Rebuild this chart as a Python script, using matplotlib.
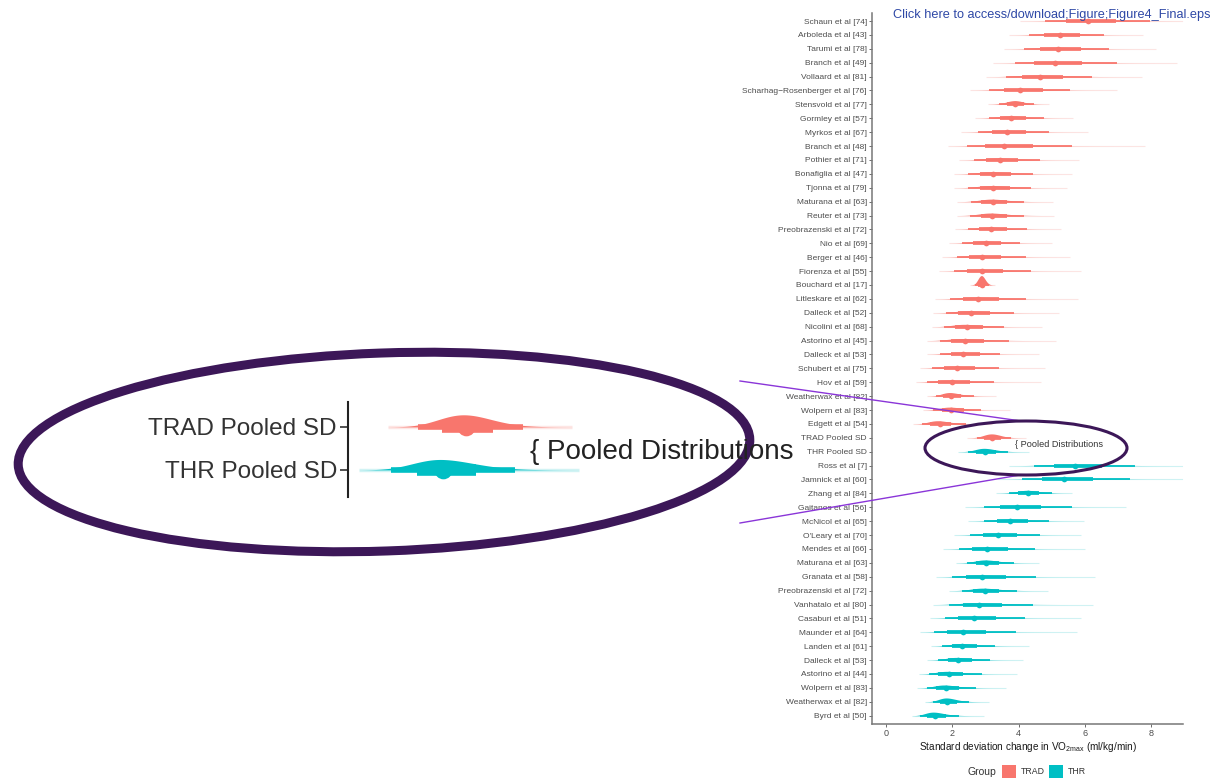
import numpy as np
import matplotlib
matplotlib.use("Agg")
import matplotlib.pyplot as plt
from matplotlib.patches import Ellipse, Rectangle
from matplotlib.lines import Line2D

plt.rcParams['font.family'] = ['Liberation Sans', 'DejaVu Sans']

# studies, top to bottom
labels = [
    'Schaun et al [74]', 'Arboleda et al [43]', 'Tarumi et al [78]', 'Branch et al [49]',
    'Vollaard et al [81]', 'Scharhag\u2212Rosenberger et al [76]', 'Stensvold et al [77]',
    'Gormley et al [57]', 'Myrkos et al [67]', 'Branch et al [48]', 'Pothier et al [71]',
    'Bonafiglia et al [47]', 'Tjonna et al [79]', 'Maturana et al [63]', 'Reuter et al [73]',
    'Preobrazenski et al [72]', 'Nio et al [69]', 'Berger et al [46]', 'Fiorenza et al [55]',
    'Bouchard et al [17]', 'Litleskare et al [62]', 'Dalleck et al [52]', 'Nicolini et al [68]',
    'Astorino et al [45]', 'Dalleck et al [53]', 'Schubert et al [75]', 'Hov et al [59]',
    'Weatherwax et al [82]', 'Wolpern et al [83]', 'Edgett et al [54]',
    'TRAD Pooled SD', 'THR Pooled SD',
    'Ross et al [7]', 'Jamnick et al [60]', 'Zhang et al [84]', 'Gaitanos et al [56]',
    'McNicol et al [65]', "O'Leary et al [70]", 'Mendes et al [66]', 'Maturana et al [63]',
    'Granata et al [58]', 'Preobrazenski et al [72]', 'Vanhatalo et al [80]',
    'Casaburi et al [51]', 'Maunder et al [64]', 'Landen et al [61]', 'Dalleck et al [53]',
    'Astorino et al [44]', 'Wolpern et al [83]', 'Weatherwax et al [82]', 'Byrd et al [50]',
]
groups = ['TRAD'] * 31 + ['THR'] * 20

# median SD change and 95% interval (ml/kg/min)
med = [6.10, 5.24, 5.17, 5.08, 4.63, 4.05, 3.90, 3.77, 3.65, 3.57, 3.43, 3.23, 3.22, 3.23,
       3.20, 3.18, 3.00, 2.90, 2.90, 2.88, 2.77, 2.57, 2.43, 2.37, 2.33, 2.15, 1.98, 1.95,
       1.97, 1.62,
       3.20, 2.98,
       5.71, 5.36, 4.27, 3.95, 3.75, 3.37, 3.05, 3.02, 2.90, 2.97, 2.80, 2.65, 2.33, 2.30,
       2.17, 1.90, 1.82, 1.85, 1.48]
lo95 = [4.80, 4.30, 4.16, 3.90, 3.62, 3.10, 3.40, 3.10, 2.77, 2.45, 2.65, 2.48, 2.48, 2.55,
        2.53, 2.48, 2.30, 2.13, 2.05, 2.68, 1.93, 1.82, 1.75, 1.62, 1.62, 1.40, 1.25, 1.50,
        1.42, 1.10,
        2.74, 2.48,
        4.45, 4.10, 3.70, 2.95, 2.95, 2.53, 2.20, 2.45, 2.00, 2.30, 1.90, 1.77, 1.45, 1.70,
        1.58, 1.30, 1.25, 1.42, 1.02]
hi95 = [7.96, 6.56, 6.71, 6.96, 6.21, 5.54, 4.45, 4.75, 4.90, 5.60, 4.65, 4.44, 4.36, 4.17,
        4.17, 4.25, 4.03, 4.22, 4.36, 3.10, 4.23, 3.87, 3.55, 3.70, 3.45, 3.41, 3.25, 2.65,
        2.85, 2.40,
        3.76, 3.68,
        7.50, 7.35, 5.00, 5.60, 4.90, 4.65, 4.50, 3.85, 4.53, 3.95, 4.44, 4.20, 3.93, 3.30,
        3.15, 2.90, 2.70, 2.50, 2.20]

colors = {'TRAD': '#F8766D', 'THR': '#00BFC4'}
pooled_rows = [30, 31]


def log_split(m, lo, hi):
    return np.log(m / lo) / 1.96, np.log(hi / m) / 1.96


def peak(m, lo, hi):
    sl, sr = log_split(m, lo, hi)
    return 2 / (np.sqrt(2 * np.pi) * (sl + sr)) / m


slab_k = 0.68 / max(peak(m, l, h) for m, l, h in zip(med, lo95, hi95))


def draw_dist(ax, row, m, lo, hi, color, scale=1.0):
    sl, sr = log_split(m, lo, hi)
    u = np.linspace(-3.4 * sl, 3.4 * sr, 400)
    x = m * np.exp(u)
    s = np.where(u < 0, sl, sr)
    dens = 2 / (np.sqrt(2 * np.pi) * (sl + sr)) * np.exp(-0.5 * (u / s) ** 2) / x
    ax.fill_between(x, row, row - slab_k * dens, color=color, lw=0, zorder=2)
    ax.plot([x[0], x[-1]], [row, row], color=color, alpha=0.18, lw=0.8 * scale,
            solid_capstyle='butt', zorder=2)
    ax.plot([lo, hi], [row, row], color=color, lw=1.3 * scale,
            solid_capstyle='butt', zorder=3)
    ax.plot([m * np.exp(-0.954 * sl), m * np.exp(0.954 * sr)], [row, row], color=color,
            lw=2.7 * scale, solid_capstyle='butt', zorder=4)
    ax.plot([m], [row], 'o', color=color, ms=4.1 * scale, mew=0, zorder=5)


W, H = 1222, 778
fig = plt.figure(figsize=(W / 100, H / 100), dpi=100)
fig.patch.set_facecolor('white')

ax = fig.add_axes([872 / W, 1 - 724 / H, (1183 - 872) / W, (724 - 12.7) / H])
for i, lab in enumerate(labels):
    draw_dist(ax, i, med[i], lo95[i], hi95[i], colors[groups[i]])

ax.set_xlim(-0.42, 8.95)
ax.set_ylim(len(labels) - 0.4, -0.6)
ax.set_yticks(range(len(labels)))
ax.set_yticklabels(labels, fontsize=6, color='#4D4D4D')
ax.set_xticks([0, 2, 4, 6, 8])
ax.tick_params(axis='both', length=2.2, width=0.6, color='#555555', pad=1.5)
ax.tick_params(axis='x', labelsize=6.5, labelcolor='#4D4D4D')
for side in ['top', 'right']:
    ax.spines[side].set_visible(False)
for side in ['left', 'bottom']:
    ax.spines[side].set_color('#777777')
    ax.spines[side].set_linewidth(1.1)
ax.set_xlabel(r'Standard deviation change in VO$_{\mathregular{2max}}$ (ml/kg/min)',
              fontsize=7.2, color='#1a1a1a', labelpad=1)
ax.text(3.88, 30.5, '{ Pooled Distributions', fontsize=6.6, color='#333333', va='center')

# legend strip at the bottom
fig.text(968 / W, 1 - 772 / H, 'Group', fontsize=7.5, color='#333333', va='center')
for x0, grp in [(1002, 'TRAD'), (1049, 'THR')]:
    fig.add_artist(Rectangle((x0 / W, 0), 14 / W, 13 / H, transform=fig.transFigure,
                             color=colors[grp], lw=0))
    fig.text((x0 + 19) / W, 1 - 772 / H, grp, fontsize=6.3, color='#333333', va='center')

fig.text(893 / W, 1 - 15 / H, 'Click here to access/download;Figure;Figure4_Final.eps',
         fontsize=9.2, color='#2E48A6', va='center', zorder=6)

# zoom lines and circles, placed in pixel units
px = lambda x, y: (x / 100, (H - y) / 100)
for (x0, y0), (x1, y1) in [((740, 381), (1021, 421)), ((740, 523), (1020, 475))]:
    a, b = px(x0, y0), px(x1, y1)
    fig.add_artist(Line2D([a[0], b[0]], [a[1], b[1]], transform=fig.dpi_scale_trans,
                          color='#8A35D8', lw=1.0, zorder=1.5))
fig.add_artist(Ellipse(px(384, 452), 7.32, 1.98, angle=2, transform=fig.dpi_scale_trans,
                       facecolor='white', edgecolor='#3C1758', lw=6.5, zorder=2))
fig.add_artist(Ellipse(px(1026, 448), 2.02, 0.54, transform=fig.dpi_scale_trans,
                       facecolor='none', edgecolor='#3C1758', lw=2.2, zorder=2))

# magnified view of the pooled rows
mag = 3.1
ins = fig.add_axes([348 / W, 1 - 497 / H, (760 - 348) / W, 95 / H], zorder=3)
ins.patch.set_alpha(0)
for k, r in enumerate(pooled_rows):
    draw_dist(ins, k, med[r], lo95[r], hi95[r], colors[groups[r]], scale=mag)
ins.set_xlim(2.06, 2.06 + 412 / (mag * 33.3))
ins.set_ylim(1.63, -0.58)
ins.set_yticks([0, 1])
ins.set_yticklabels([labels[r] for r in pooled_rows], fontsize=17.5, color='#333333')
ins.set_xticks([])
ins.tick_params(axis='y', length=6, width=1.2, color='#333333', pad=2)
for side in ['top', 'right', 'bottom']:
    ins.spines[side].set_visible(False)
ins.spines['left'].set_linewidth(1.5)
ins.spines['left'].set_color('#222222')
fig.text(530 / W, 1 - 452 / H, '{ Pooled Distributions', fontsize=20, color='#222222',
         va='center', zorder=4)

fig.savefig('out.png', dpi=100, facecolor='white')
